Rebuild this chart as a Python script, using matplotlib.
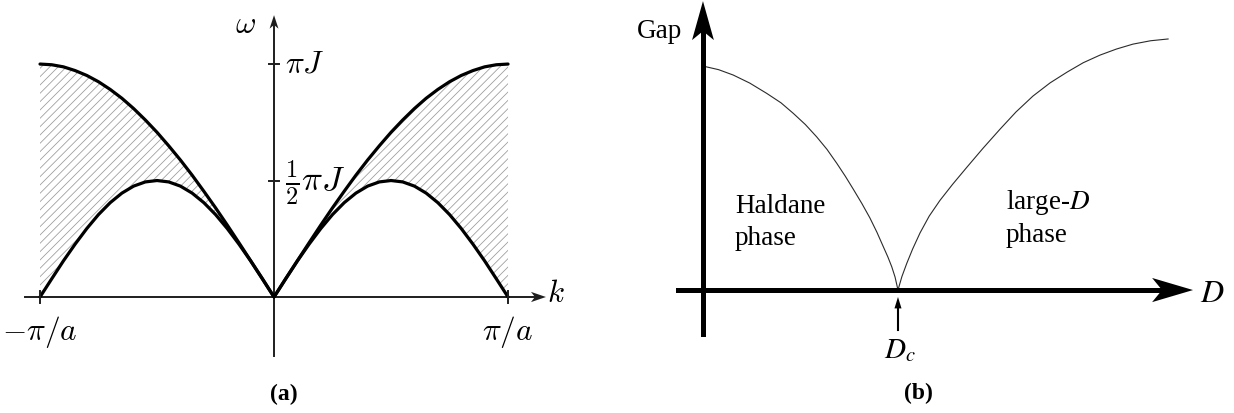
"""Two-panel sketch: (a) two-spinon continuum, (b) gap across the Haldane / large-D transition."""

import matplotlib.pyplot as plt
import numpy as np
from matplotlib.patches import Polygon

plt.rcParams["hatch.linewidth"] = 0.55

# (a) k in units of pi/a (k >= 0 half), omega in units of pi*J
k_half = [0.0, 0.05, 0.10, 0.15, 0.20, 0.25, 0.30, 0.35, 0.40, 0.45, 0.50,
          0.55, 0.60, 0.65, 0.70, 0.75, 0.80, 0.85, 0.90, 0.95, 1.0]
omega_upper = [0.0, 0.079, 0.156, 0.233, 0.309, 0.383, 0.454, 0.523, 0.588,
               0.649, 0.707, 0.760, 0.809, 0.853, 0.891, 0.924, 0.951, 0.972,
               0.988, 0.997, 1.0]
omega_lower = [0.0, 0.078, 0.155, 0.227, 0.294, 0.354, 0.405, 0.446, 0.476,
               0.494, 0.500, 0.494, 0.476, 0.446, 0.405, 0.354, 0.294, 0.227,
               0.155, 0.078, 0.0]

# (b) D in units of D_c, gap normalised to its D = 0 value
d_haldane = [0.0, 0.08, 0.155, 0.24, 0.327, 0.40, 0.463, 0.525, 0.583, 0.636,
             0.686, 0.73, 0.771, 0.815, 0.856, 0.892, 0.925, 0.948, 0.968,
             0.985, 1.0]
gap_haldane = [1.0, 0.984, 0.960, 0.924, 0.878, 0.836, 0.789, 0.739, 0.684,
               0.628, 0.566, 0.508, 0.450, 0.386, 0.322, 0.258, 0.193, 0.148,
               0.104, 0.058, 0.0]
d_large = [1.0, 1.02, 1.045, 1.075, 1.113, 1.16, 1.215, 1.28, 1.352, 1.435,
           1.523, 1.605, 1.692, 1.78, 1.867, 1.95, 2.036, 2.12, 2.205, 2.295,
           2.385]
gap_large = [0.0, 0.06, 0.119, 0.183, 0.255, 0.330, 0.400, 0.472, 0.547,
             0.632, 0.718, 0.795, 0.866, 0.925, 0.973, 1.015, 1.049, 1.076,
             1.098, 1.113, 1.121]

fig = plt.figure(figsize=(12.34, 4.13), dpi=100)
ax_a = fig.add_axes([0, 0, 600 / 1234, 1])
ax_b = fig.add_axes([600 / 1234, 0, 634 / 1234, 1])
for ax in (ax_a, ax_b):
    ax.set_axis_off()

# ---------------- panel (a) ----------------
ax_a.set_xlim(-1.171, 1.393)
ax_a.set_ylim(-0.498, 1.275)

k = np.concatenate([-np.array(k_half[::-1]), np.array(k_half[1:])])
upper = np.concatenate([omega_upper[::-1], omega_upper[1:]])
lower = np.concatenate([omega_lower[::-1], omega_lower[1:]])

ax_a.fill_between(k, lower, upper, facecolor="none", edgecolor="#999999",
                  hatch="////", linewidth=0)
ax_a.plot(k, upper, color="black", lw=2.3, solid_capstyle="round", zorder=4)
ax_a.plot(k, lower, color="black", lw=2.3, solid_capstyle="round", zorder=4)

axis_col = "#1e1e1e"
ax_a.plot([-1.064, 1.12], [0, 0], color=axis_col, lw=1.4, zorder=3)
ax_a.plot([0, 0], [-0.253, 1.17], color=axis_col, lw=1.4, zorder=3)
ax_a.add_patch(Polygon([[1.162, 0], [1.098, 0.022], [1.115, 0],
                        [1.098, -0.022]], closed=True, color=axis_col, lw=0))
ax_a.add_patch(Polygon([[0, 1.21], [0.019, 1.152], [0, 1.168],
                        [-0.019, 1.152]], closed=True, color=axis_col, lw=0))
for xt in (-1, 1):
    ax_a.plot([xt, xt], [-0.026, 0.026], color=axis_col, lw=1.4, zorder=5)
for yt in (0.5, 1.0):
    ax_a.plot([-0.022, 0.022], [yt, yt], color=axis_col, lw=1.4, zorder=5)

math_a = dict(fontsize=22.5, math_fontfamily="cm", color="black")
ax_a.text(-1.0, -0.075, r"$-\pi/a$", ha="center", va="top", **math_a)
ax_a.text(1.0, -0.075, r"$\pi/a$", ha="center", va="top", **math_a)
ax_a.text(1.165, -0.021, r"$k$", ha="left", va="baseline", **math_a)
ax_a.text(-0.12, 1.135, r"$\omega$", ha="center", va="baseline", **math_a)
ax_a.text(0.045, 1.0, r"$\pi J$", ha="left", va="center", **math_a)
ax_a.text(0.045, 0.49, r"$\frac{1}{2}\pi J$", ha="left", va="center",
          fontsize=25, math_fontfamily="cm")
ax_a.text(0.043, -0.42, "(a)", ha="center", va="center", fontsize=17,
          fontweight="bold", family="Liberation Serif")

# ---------------- panel (b) ----------------
ax_b.set_xlim(-0.528, 2.723)
ax_b.set_ylim(-0.549, 1.295)

ax_b.plot(d_haldane, gap_haldane, color="#2b2b2b", lw=0.8, zorder=3)
ax_b.plot(d_large, gap_large, color="#2b2b2b", lw=0.8, zorder=3)

ax_b.plot([-0.128, 2.36], [0, 0], color="black", lw=3.6, zorder=4)
ax_b.plot([0, 0], [-0.196, 1.15], color="black", lw=3.6, zorder=4)
ax_b.add_patch(Polygon([[2.513, 0], [2.303, 0.054], [2.354, 0],
                        [2.303, -0.054]], closed=True, color="black", lw=0,
                       zorder=5))
ax_b.add_patch(Polygon([[0, 1.29], [0.056, 1.116], [0, 1.156],
                        [-0.056, 1.116]], closed=True, color="black", lw=0,
                       zorder=5))

# marker arrow pointing at D_c
ax_b.plot([1.0, 1.0], [-0.179, -0.07], color="black", lw=1.5)
ax_b.add_patch(Polygon([[1.0, -0.031], [1.018, -0.082], [0.982, -0.082]],
                       closed=True, color="black", lw=0))

serif = dict(fontsize=19.5, family="Liberation Serif", color="black")
ax_b.text(-0.108, 1.125, "Gap", ha="right", va="baseline", **serif)
ax_b.text(0.164, 0.344, "Haldane", ha="left", va="baseline", **serif)
ax_b.text(0.164, 0.201, "phase", ha="left", va="baseline", **serif)
ax_b.text(1.554, 0.362, r"large-$D$", ha="left", va="baseline",
          math_fontfamily="stix", **serif)
ax_b.text(1.554, 0.214, "phase", ha="left", va="baseline", **serif)
ax_b.text(1.01, -0.304, r"$D_c$", ha="center", va="baseline", fontsize=21,
          math_fontfamily="stix")
ax_b.text(2.549, -0.054, r"$D$", ha="left", va="baseline", fontsize=23,
          math_fontfamily="stix")
ax_b.text(1.103, -0.46, "(b)", ha="center", va="center", fontsize=17,
          fontweight="bold", family="Liberation Serif")

fig.savefig("out.png", dpi=100)
